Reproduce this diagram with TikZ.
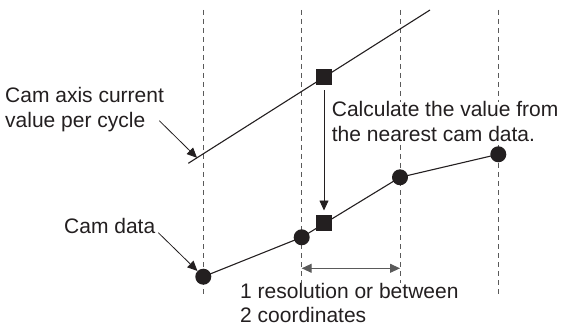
\documentclass[tikz,border=0pt]{standalone}
\usepackage{fontspec}
\setmainfont{Liberation Sans}
\usetikzlibrary{arrows.meta}
\definecolor{InkBlack}{RGB}{35,31,32}
\definecolor{GuideGray}{RGB}{90,90,90}
\begin{document}
\begin{tikzpicture}[x=1pt,y=-1pt,>={Triangle[length=10pt,width=9pt]},
      guide/.style={draw=GuideGray,line width=0.9pt,dash pattern=on 5pt off 4pt},
      curve/.style={draw=InkBlack,line width=1.1pt},
      lead/.style={draw=InkBlack,line width=0.8pt,->},
      pt/.style={circle,fill=InkBlack,minimum size=16pt,inner sep=0pt},
      sq/.style={rectangle,fill=InkBlack,minimum size=16pt,inner sep=0pt},
      lbl/.style={font=\fontsize{21}{24.5}\selectfont,text=InkBlack,fill=white,inner sep=0pt,align=left,anchor=north west}]
    \useasboundingbox (0,0) rectangle (563,329);
    % dashed guides at the cam data positions
    \foreach \x [count=\i] in {203.3,301.7,400,498.3}
      \draw[guide] (\x,10) -- (\x,297);
    % cam axis current value per cycle
    \coordinate (axLow)  at (188.3,163.3);
    \coordinate (axHigh) at (430,10);
    \draw[curve] (axLow) -- (axHigh);
    \node[sq] (sqAxis) at (324,77.3) {};
    % cam data
    \node[pt] (cd1) at (203.3,276.7) {};
    \node[pt] (cd2) at (301.7,237.3) {};
    \node[pt] (cd3) at (400,177.3) {};
    \node[pt] (cd4) at (498.3,154.3) {};
    \draw[curve] (cd1.center) -- (cd2.center) -- (cd3.center) -- (cd4.center);
    \node[sq] (sqData) at (324,223.3) {};
    \draw[lead,shorten <=4.6pt,shorten >=4.6pt] (sqAxis.south) -- (sqData.north);
    % labels
    \node[lbl] (lblAxis) at (5,87.4) {Cam axis current\\value per cycle};
    \node[lbl] (lblCalc) at (331.7,101.4) {Calculate the value from\\the nearest cam data.};
    \node[lbl] (lblData) at (64,218) {Cam data};
    \node[lbl] (lblRes)  at (240,283) {1 resolution or between\\2 coordinates};
    \coordinate (axFrom) at (159.3,120.7);
    \coordinate (axTip)  at (197,157.8);
    \draw[lead] (axFrom) -- (axTip);
    \coordinate (cdFrom) at (158.3,232.7);
    \draw[lead] (cdFrom) -- (cd1);
    % resolution span
    \coordinate (res1) at (301.7,268.3);
    \coordinate (res2) at (400,268.3);
    \draw[<->,draw=GuideGray,fill=GuideGray,line width=1.1pt] (res1) -- (res2);
\end{tikzpicture}
\end{document}
